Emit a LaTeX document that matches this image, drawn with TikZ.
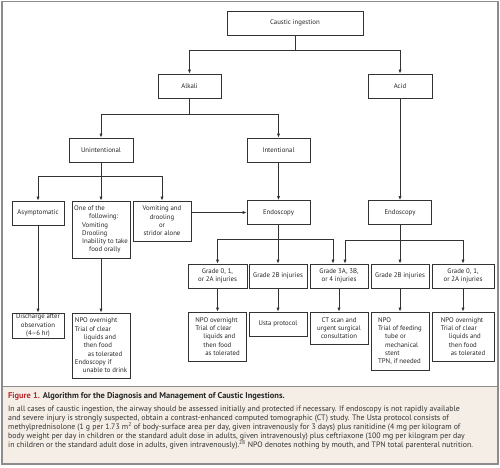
\documentclass[tikz,border=0pt]{standalone}
\usepackage{fontspec}
\setmainfont{PT Sans}
\usetikzlibrary{arrows.meta}
\definecolor{linec}{HTML}{333333}
\definecolor{framec}{HTML}{8C8C8C}
\definecolor{capbg}{HTML}{F4EEE6}
\definecolor{figred}{HTML}{B8282E}
\newcommand{\ind}[1]{\hspace*{#1pt}}
\begin{document}
\begin{tikzpicture}[x=1pt,y=-1pt,
  box/.style={draw=linec, line width=0.8pt, font=\fontsize{6.8}{8.3}\selectfont, align=center, inner sep=1pt, text=black!85},
  lbox/.style={box, align=left},
  conn/.style={draw=linec, line width=0.7pt},
  arr/.style={conn, -{Latex[length=4pt,width=3.2pt]}}]
\useasboundingbox (0,0) rectangle (500,467);
\fill[capbg] (2,386) rectangle (498,464);
\draw[framec, line width=1.2pt] (2,1.5) rectangle (498,464);
\draw[framec, line width=0.8pt] (2,386) -- (498,386);

\node[box, minimum width=136pt, minimum height=24pt] (caustic) at (295,23) {Caustic ingestion};
\node[box, minimum width=63pt, minimum height=24pt] (alkali) at (189.5,86) {Alkali};
\node[box, minimum width=64pt, minimum height=24pt] (acid) at (400,86) {Acid};
\node[box, minimum width=64pt, minimum height=24pt] (unint) at (101,150) {Unintentional};
\node[box, minimum width=63pt, minimum height=24pt] (intent) at (278.5,150) {Intentional};
\node[box, minimum width=52pt, minimum height=24pt] (asym) at (38,213) {Asymptomatic};
\node[lbox, minimum width=58pt, minimum height=57pt] (oneof) at (101,229.5) {One of the\\ \ind{15}following:\\ \ind{8}Vomiting\\ \ind{8}Drooling\\ \ind{8}Inability to take\\ \ind{15}food orally};
\node[box, minimum width=58pt, minimum height=40pt] (vomit) at (162,221) {Vomiting and\\ drooling\\ or\\ stridor alone};
\node[box, minimum width=63pt, minimum height=24pt] (endoA) at (278.5,212.5) {Endoscopy};
\node[box, minimum width=63pt, minimum height=24pt] (endoB) at (400,212.5) {Endoscopy};
\node[box, minimum width=59pt, minimum height=24pt] (g1) at (217.5,276) {Grade 0, 1,\\ or 2A injuries};
\node[box, minimum width=58pt, minimum height=24pt] (g2) at (278,276) {Grade 2B injuries};
\node[box, minimum width=58pt, minimum height=24pt] (g3) at (339,276) {Grade 3A, 3B,\\ or 4 injuries};
\node[box, minimum width=58pt, minimum height=24pt] (g4) at (400,276) {Grade 2B injuries};
\node[box, minimum width=62pt, minimum height=24pt] (g5) at (463,276) {Grade 0, 1,\\ or 2A injuries};
\node[box, minimum width=52pt, minimum height=25pt] (disch) at (38,325.5) {Discharge after\\ observation\\ (4–6 hr)};
\node[lbox, minimum width=58pt, minimum height=65pt] (npoL) at (101,345.5) {NPO overnight\\ Trial of clear\\ \ind{9}liquids and\\ \ind{9}then food\\ \ind{13}as tolerated\\ Endoscopy if\\ \ind{8}unable to drink};
\node[lbox, minimum width=58pt, minimum height=49pt] (npo1) at (217.5,336.5) {NPO overnight\\ Trial of clear\\ \ind{8}liquids and\\ \ind{8}then food\\ \ind{10}as tolerated};
\node[box, minimum width=58pt, minimum height=24pt] (usta) at (278,324) {Usta protocol};
\node[box, minimum width=58pt, minimum height=32pt] (ct) at (339,328) {CT scan and\\ urgent surgical\\ consultation};
\node[lbox, minimum width=58pt, minimum height=58pt] (npo2) at (400,341) {NPO\\ Trial of feeding\\ \ind{7}tube or\\ \ind{7}mechanical\\ \ind{7}stent\\ TPN, if needed};
\node[lbox, minimum width=62pt, minimum height=49pt] (npo3) at (463,336.5) {NPO overnight\\ Trial of clear\\ \ind{8}liquids and\\ \ind{8}then food\\ \ind{10}as tolerated};

\coordinate (j1) at (295,50);
\draw[conn] (caustic) -- (j1);
\draw[arr] (j1) -| (alkali);
\draw[arr] (j1) -| (acid);
\coordinate (j2) at (189.5,114);
\draw[conn] (alkali) -- (j2);
\draw[arr] (j2) -| (unint);
\draw[arr] (j2) -| (intent);
\coordinate (j3) at (101,176);
\draw[conn] (unint) -- (j3);
\draw[arr] (j3) -| (asym);
\draw[arr] (j3) -- (oneof);
\draw[arr] (j3) -| (vomit);
\draw[arr] (intent) -- (endoA);
\draw[arr] (acid) -- (endoB);
\draw[arr] (vomit.east |- endoA) -- (endoA.west);
\coordinate (j4) at (278.5,239);
\draw[conn] (endoA) -- (j4);
\draw[arr] (j4) -| (g1);
\draw[arr] (j4) -| (g2);
\draw[arr] (j4) -| ([xshift=-6pt]g3.north);
\coordinate (j5) at (400,240);
\draw[conn] (endoB) -- (j5);
\draw[arr] (j5) -| ([xshift=6pt]g3.north);
\draw[arr] (j5) -- (g4);
\draw[arr] (j5) -| (g5);
\draw[arr] (asym) -- (disch);
\draw[arr] (oneof) -- (npoL);
\draw[arr] (g1) -- (npo1);
\draw[arr] (g2) -- (usta);
\draw[arr] (g3) -- (ct);
\draw[arr] (g4) -- (npo2);
\draw[arr] (g5) -- (npo3);

\node[anchor=north west, inner sep=0pt, font=\fontsize{8.4}{9}\selectfont\bfseries, text=black!85] (title) at (8,392) {\textcolor{figred}{Figure 1.} Algorithm for the Diagnosis and Management of Caustic Ingestions.};
\node[anchor=north west, inner sep=0pt, align=left, font=\fontsize{7.85}{9}\selectfont, text=black!80] (body) at (8,405.5) {In all cases of caustic ingestion, the airway should be assessed initially and protected if necessary. If endoscopy is not rapidly available\\ and severe injury is strongly suspected, obtain a contrast-enhanced computed tomographic (CT) study. The Usta protocol consists of\\ methylprednisolone (1 g per 1.73 m\textsuperscript{2} of body-surface area per day, given intravenously for 3 days) plus ranitidine (4 mg per kilogram of\\ body weight per day in children or the standard adult dose in adults, given intravenously) plus ceftriaxone (100 mg per kilogram per day\\ in children or the standard adult dose in adults, given intravenously).\textsuperscript{28} NPO denotes nothing by mouth, and TPN total parenteral nutrition.};
\end{tikzpicture}
\end{document}
